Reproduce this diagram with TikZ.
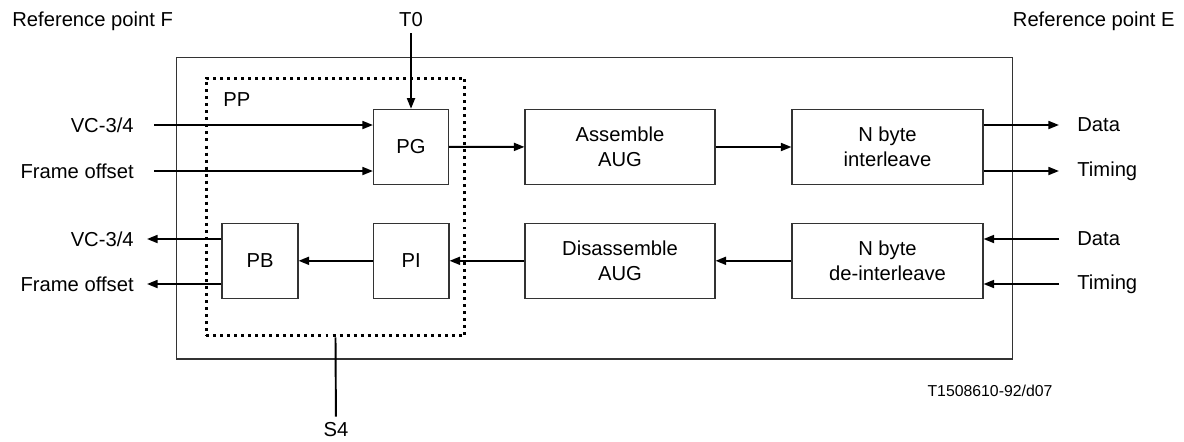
\documentclass[tikz,border=0pt]{standalone}
\usepackage{fontspec}
\setmainfont{Liberation Sans}
\usetikzlibrary{arrows.meta}

\begin{document}
\begin{tikzpicture}[x=0.02cm,y=-0.02cm,
    every node/.style={font=\fontsize{11.5}{14}\selectfont},
    blk/.style={draw=black!80,line width=0.6pt,align=center,inner sep=0pt,minimum height=1.5cm},
    conn/.style={line width=1.1pt,-{Triangle[length=6pt,width=4.5pt]}},
    lbl/.style={inner sep=0pt}]
    \useasboundingbox (0,0) rectangle (1184,441);
    \node[blk,minimum width=16.74cm,minimum height=6.04cm] (outer) at (594.5,208) {};
    \node[draw,line width=1.7pt,dash pattern=on 1.7pt off 2.3pt,minimum width=5.18cm,minimum height=5.16cm] (pp) at (335.5,207) {};
    \node[lbl,anchor=west] at (223,100) {PP};
    \node[blk,minimum width=1.5cm] (pg) at (411,146.8) {PG};
    \node[blk,minimum width=3.8cm] (asm) at (620,147) {Assemble\\AUG};
    \node[blk,minimum width=3.82cm] (ilv) at (887.5,147) {N byte\\interleave};
    \node[blk,minimum width=1.52cm] (pb) at (260,260.8) {PB};
    \node[blk,minimum width=1.51cm] (pi) at (411.25,260.8) {PI};
    \node[blk,minimum width=3.8cm] (dis) at (620,260.8) {Disassemble\\AUG};
    \node[blk,minimum width=3.82cm] (dlv) at (887.5,260.8) {N byte\\de-interleave};
    \node[lbl,anchor=west] at (12,21) {Reference point F};
    \node[lbl,anchor=east] at (1175,21) {Reference point E};
    \node (t0) at (411,20) {T0};
    \node (s4) at (336,430) {S4};
    \node[lbl,font=\fontsize{9}{10}\selectfont] at (990,391) {T1508610-92/d07};
    \node[lbl,anchor=east] at (134,125) {VC-3/4};
    \node[lbl,anchor=east] at (134,171) {Frame offset};
    \node[lbl,anchor=east] at (134,239) {VC-3/4};
    \node[lbl,anchor=east] at (134,284) {Frame offset};
    \node[lbl,anchor=west] at (1077,125) {Data};
    \node[lbl,anchor=west] at (1077,171) {Timing};
    \node[lbl,anchor=west] at (1077,239) {Data};
    \node[lbl,anchor=west] at (1077,284) {Timing};
    \coordinate (vcin) at (154,125);
    \coordinate (foin) at (154,171);
    \coordinate (vcout) at (147,239);
    \coordinate (foout) at (147,284);
    \coordinate (dout) at (1059,125);
    \coordinate (tout) at (1059,171);
    \coordinate (din) at (1059,239);
    \coordinate (tin) at (1059,284);
    \draw[conn] (t0) -- (pg);
    \draw[line width=1.1pt] (pp.south) -- (s4);
    \draw[conn] (vcin) -- (vcin -| pg.west);
    \draw[conn] (foin) -- (foin -| pg.west);
    \draw[conn] (pg) -- (asm);
    \draw[conn] (asm) -- (ilv);
    \draw[conn] (ilv.east |- dout) -- (dout);
    \draw[conn] (ilv.east |- tout) -- (tout);
    \draw[conn] (din) -- (din -| dlv.east);
    \draw[conn] (tin) -- (tin -| dlv.east);
    \draw[conn] (dlv) -- (dis);
    \draw[conn] (dis) -- (pi);
    \draw[conn] (pi) -- (pb);
    \draw[conn] (pb.west |- vcout) -- (vcout);
    \draw[conn] (pb.west |- foout) -- (foout);
\end{tikzpicture}
\end{document}
